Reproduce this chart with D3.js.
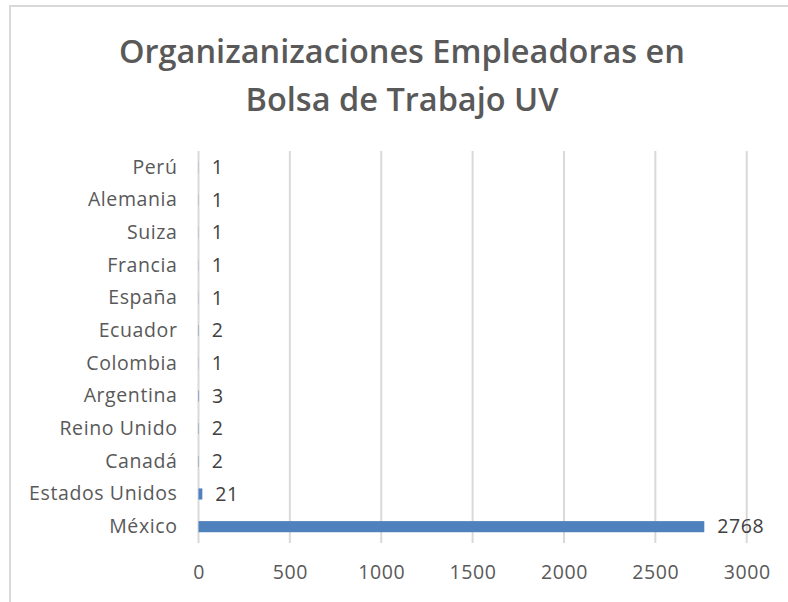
<!DOCTYPE html>
<html>
<head>
<meta charset="utf-8">
<script src="https://cdn.jsdelivr.net/npm/d3@7"></script>
<style>
  html, body { margin: 0; padding: 0; background: #ffffff; }
  svg { display: block; }
</style>
</head>
<body>
<script>
const categories = ["Perú", "Alemania", "Suiza", "Francia", "España", "Ecuador", "Colombia", "Argentina", "Reino Unido", "Canadá", "Estados Unidos", "México"];
const values = [1, 1, 1, 1, 1, 2, 1, 3, 2, 2, 21, 2768];
const xTicks = [0, 500, 1000, 1500, 2000, 2500, 3000];
const titleLines = ["Organizanizaciones Empleadoras en", "Bolsa de Trabajo UV"];

const W = 788, H = 602;
const margin = { left: 198.5, right: 41.3, top: 151, bottom: 59 };
const font = "'Open Sans', 'Noto Sans', sans-serif";
const textColor = "#595959";
const gridColor = "#d9d9d9";
const barColor = "#4f81bd";
const labelSize = 19.5;
const labelSpacing = "0.6px";

const svg = d3.select("body").append("svg").attr("width", W).attr("height", H);

// chart border
svg.append("rect").attr("x", 10).attr("y", 6).attr("width", W).attr("height", H)
  .attr("fill", "#fff").attr("stroke", gridColor).attr("stroke-width", 2);

// title
svg.append("g").selectAll("text").data(titleLines).join("text")
  .attr("x", 402).attr("y", (d, i) => 63 + i * 48)
  .attr("text-anchor", "middle")
  .attr("font-family", font).attr("font-weight", 600).attr("font-size", 32.5)
  .attr("fill", textColor)
  .text(d => d);

const x = d3.scaleLinear().domain([0, 3000]).range([margin.left, W - margin.right]);
const y = d3.scaleBand().domain(categories).range([margin.top, H - margin.bottom]).paddingInner(0.66).paddingOuter(0.33);

// gridlines
svg.append("g").selectAll("line").data(xTicks).join("line")
  .attr("x1", d => x(d)).attr("x2", d => x(d))
  .attr("y1", margin.top).attr("y2", H - margin.bottom)
  .attr("stroke", gridColor).attr("stroke-width", 2);

// x axis labels
const xAxis = d3.axisBottom(x).tickValues(xTicks).tickFormat(d3.format("d")).tickSize(0).tickPadding(0);
const gx = svg.append("g").attr("transform", `translate(0,${H - margin.bottom + 22})`).call(xAxis);
gx.select(".domain").remove();
gx.selectAll("text").attr("font-family", font).attr("font-size", labelSize)
  .attr("letter-spacing", labelSpacing).attr("fill", textColor).attr("dy", "0.71em");

// y axis labels
const yAxis = d3.axisLeft(y).tickSize(0).tickPadding(21);
const gy = svg.append("g").attr("transform", `translate(${margin.left},0)`).call(yAxis);
gy.select(".domain").remove();
gy.selectAll("text").attr("font-family", font).attr("font-size", labelSize)
  .attr("letter-spacing", labelSpacing).attr("fill", textColor);

// bars
svg.append("g").selectAll("rect").data(categories).join("rect")
  .attr("x", x(0))
  .attr("y", d => y(d))
  .attr("width", (d, i) => x(values[i]) - x(0))
  .attr("height", y.bandwidth())
  .attr("fill", barColor);

// value labels
svg.append("g").selectAll("text").data(categories).join("text")
  .attr("x", (d, i) => x(values[i]) + 13)
  .attr("y", d => y(d) + y.bandwidth() / 2)
  .attr("dy", "0.35em")
  .attr("font-family", font).attr("font-size", labelSize)
  .attr("letter-spacing", labelSpacing).attr("fill", "#404040")
  .text((d, i) => values[i]);
</script>
</body>
</html>
